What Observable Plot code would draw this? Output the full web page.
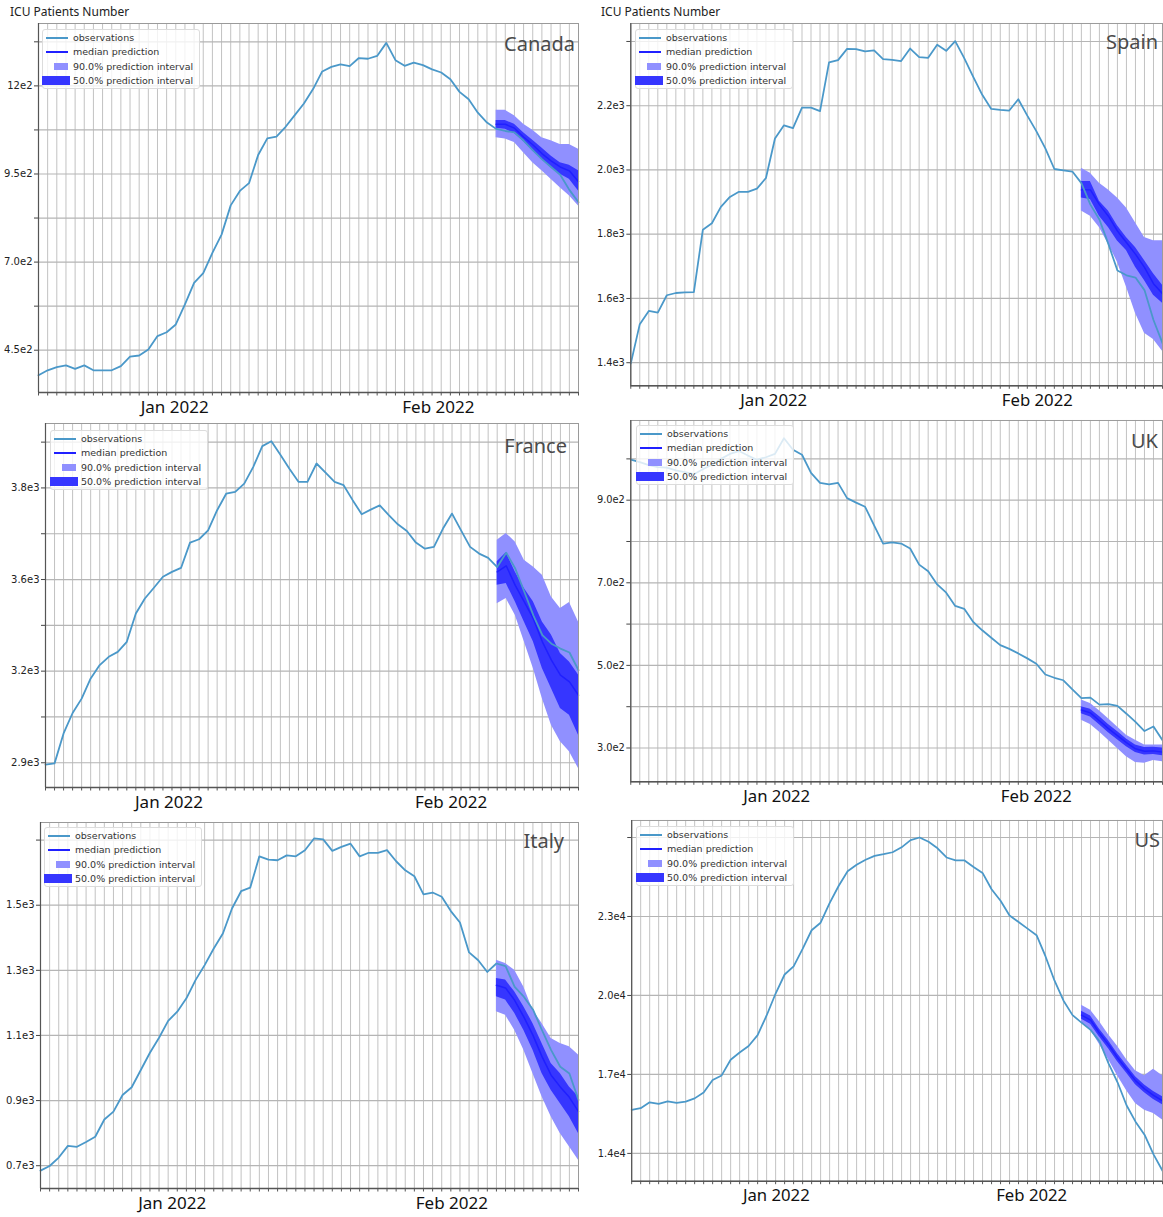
<!DOCTYPE html>
<html><head><meta charset="utf-8">
<script src="https://cdn.jsdelivr.net/npm/d3@7"></script>
<script src="https://cdn.jsdelivr.net/npm/@observablehq/plot@0.6"></script>
<style>
html,body{margin:0;padding:0;background:#fff;}
#page{position:relative;width:1163px;height:1217px;overflow:hidden;background:#fff;}
.panel{position:absolute;}
.title{position:absolute;font-family:"Noto Sans";font-size:12px;color:#222;line-height:14px;white-space:nowrap;}
.country{position:absolute;font-family:"Noto Sans";font-size:20px;color:#4a4a4a;transform:translate(-100%,-50%);white-space:nowrap;line-height:24px;}
.legend{position:absolute;background:rgba(255,255,255,0.8);border:1px solid #dcdcdc;border-radius:3px;width:158px;height:60px;box-sizing:border-box;font-family:"DejaVu Sans";font-size:9.5px;color:#333;}
.legend .sw{position:absolute;}
.legend .tx{position:absolute;left:30px;line-height:12px;white-space:nowrap;}
</style></head>
<body><div id="page"></div>
<script>
// ---------------- data ----------------
const startDay = "2021-12-18";
const nDays = 60;
const predStart = 50;
const janLabel = "Jan 2022", febLabel = "Feb 2022";
const janDate = "2022-01-01", febDate = "2022-02-01";
const titleText = "ICU Patients Number";
const legendLabels = ["observations", "median prediction", "90.0% prediction interval", "50.0% prediction interval"];

// Canada
const canadaObs = [379,393,402,407,397,407,393,393,393,405,432,435,452,490,501,523,580,641,669,726,778,861,902,924,1004,1051,1056,1084,1117,1150,1191,1241,1254,1261,1256,1279,1277,1285,1322,1273,1257,1266,1259,1247,1238,1219,1183,1162,1124,1096,1078,1072,1068,1045,1018,992,970,948,905,870];
const canadaMed  = [1091,1091,1080,1055,1033,1008,987,970,959,928];
const canadaLo50 = [1080,1077,1065,1042,1015,992,968,949,935,902];
const canadaHi50 = [1102,1102,1091,1067,1046,1024,1001,982,975,959];
const canadaLo90 = [1053,1049,1039,1010,982,959,935,911,888,859];
const canadaHi90 = [1131,1131,1115,1091,1074,1053,1044,1034,1034,1020];
const canadaGrid = [450,575,700,825,950,1075,1200,1325];
const canadaTicks = [1200,950,700,450];
const canadaTickLabels = ["12e2","9.5e2","7.0e2","4.5e2"];

// Spain
const spainObs = [1397,1520,1561,1556,1610,1617,1619,1620,1814,1834,1885,1916,1932,1932,1942,1975,2098,2139,2130,2194,2194,2183,2335,2342,2377,2376,2369,2372,2345,2343,2339,2378,2351,2349,2390,2371,2401,2348,2290,2234,2190,2187,2185,2220,2169,2121,2067,2003,1999,1995,1959,1892,1846,1769,1687,1672,1665,1626,1533,1461];
const spainMed  = [1938,1938,1892,1856,1810,1774,1738,1697,1646,1615];
const spainLo50 = [1913,1908,1856,1821,1779,1749,1697,1656,1610,1585];
const spainHi50 = [1964,1964,1903,1872,1826,1790,1759,1718,1677,1641];
const spainLo90 = [1872,1856,1821,1769,1713,1636,1554,1492,1472,1436];
const spainHi90 = [2005,1990,1959,1938,1913,1882,1836,1790,1780,1780];
const spainGrid = [1400,1600,1800,2000,2200,2400];
const spainTicks = [2200,2000,1800,1600,1400];
const spainTickLabels = ["2.2e3","2.0e3","1.8e3","1.6e3","1.4e3"];

// France
const franceObs = [2894,2898,2996,3063,3110,3176,3220,3247,3263,3296,3389,3438,3473,3509,3525,3538,3621,3632,3661,3727,3781,3787,3814,3869,3937,3953,3909,3863,3820,3820,3880,3850,3820,3809,3760,3714,3729,3743,3711,3681,3659,3621,3601,3607,3667,3716,3661,3607,3585,3571,3541,3588,3536,3460,3383,3318,3290,3274,3261,3203];
const franceMed  = [3525,3545,3481,3427,3372,3296,3236,3187,3165,3121];
const franceLo50 = [3481,3487,3427,3361,3296,3209,3143,3078,3056,2990];
const franceHi50 = [3558,3588,3525,3471,3427,3361,3318,3258,3230,3187];
const franceLo90 = [3421,3438,3383,3296,3209,3110,3023,2969,2936,2881];
const franceHi90 = [3629,3651,3623,3563,3541,3514,3443,3405,3425,3361];
const franceGrid = [2900,3050,3200,3350,3500,3650,3800,3950];
const franceTicks = [3800,3500,3200,2900];
const franceTickLabels = ["3.8e3","3.6e3","3.2e3","2.9e3"];

// UK
const ukObs = [998,992,985,980,979,972,968,963,975,986,1000,1012,1019,1008,998,1004,1012,1050,1022,1010,966,942,938,942,905,894,884,839,795,798,795,783,744,728,696,676,644,637,605,585,567,549,540,529,517,504,478,470,464,442,421,422,405,406,402,383,363,341,352,319];
const ukMed  = [392,385,366,347,330,313,298,292,293,290];
const ukLo50 = [383,375,356,337,320,303,289,283,284,281];
const ukHi50 = [400,394,376,357,340,322,307,301,302,300];
const ukLo90 = [367,357,339,319,299,279,265,263,270,267];
const ukHi90 = [416,408,390,371,351,331,319,307,307,307];
const ukGrid = [300,400,500,600,700,800,900,1000];
const ukTicks = [900,700,500,300];
const ukTickLabels = ["9.0e2","7.0e2","5.0e2","3.0e2"];

// Italy
const italyObs = [685,699,725,761,758,773,789,842,866,917,941,994,1047,1093,1145,1173,1214,1270,1316,1367,1413,1490,1543,1554,1650,1640,1638,1653,1650,1669,1705,1702,1667,1679,1689,1650,1661,1661,1669,1635,1607,1589,1533,1539,1526,1482,1447,1355,1331,1295,1321,1313,1249,1219,1180,1116,1055,1004,983,902];
const italyMed  = [1254,1246,1208,1157,1101,1035,978,942,910,866];
const italyLo50 = [1219,1209,1168,1116,1055,983,932,891,850,799];
const italyHi50 = [1275,1270,1234,1188,1137,1075,1014,983,942,912];
const italyLo90 = [1173,1162,1116,1055,983,912,850,799,758,717];
const italyHi90 = [1331,1321,1300,1249,1178,1137,1091,1075,1065,1040];
const italyGrid = [700,900,1100,1300,1500,1700];
const italyTicks = [1500,1300,1100,900,700];
const italyTickLabels = ["1.5e3","1.3e3","1.1e3","0.9e3","0.7e3"];

// US
const usObs = [15655,15717,15941,15879,15979,15916,15966,16090,16314,16788,16962,17559,17833,18082,18493,19240,20074,20796,21108,21767,22477,22763,23510,24158,24718,24967,25154,25303,25366,25440,25627,25901,26000,25839,25590,25241,25129,25129,24880,24656,24033,23598,23037,22788,22539,22290,21481,20560,19800,19253,18967,18693,18257,17423,16701,15829,15207,14709,13962,13340];
const usMed  = [19253,19066,18568,18133,17635,17199,16763,16452,16203,16000];
const usLo50 = [19100,18910,18420,17980,17480,17050,16610,16300,16050,15850];
const usHi50 = [19400,19220,18720,18280,17790,17350,16910,16600,16350,16150];
const usLo90 = [18942,18693,18133,17572,16950,16390,15892,15642,15518,15269];
const usHi90 = [19627,19440,19004,18506,18070,17572,17137,16950,17199,16950];
const usGrid = [14000,17000,20000,23000,26000];
const usTicks = [23000,20000,17000,14000];
const usTickLabels = ["2.3e4","2.0e4","1.7e4","1.4e4"];

// ---------------- layout ----------------
const OBS_C = "#4a98c9", MED_C = "#2020ff", P90_C = "#9090ff", P50_C = "#3636ff";

const panels = [
  {name:"Canada", col:0, l:38, r:578, t:23, b:392, y:[330,1377], obs:canadaObs, med:canadaMed, lo50:canadaLo50, hi50:canadaHi50, lo90:canadaLo90, hi90:canadaHi90, grid:canadaGrid, ticks:canadaTicks, labels:canadaTickLabels, lg:[42,29], cx:575, cy:44, janDx:8, febDx:-12},
  {name:"Spain", col:583, l:631, r:1171, t:23, b:391, y:[1328,2456], obs:spainObs, med:spainMed, lo50:spainLo50, hi50:spainHi50, lo90:spainLo90, hi90:spainHi90, grid:spainGrid, ticks:spainTicks, labels:spainTickLabels, lg:[635,29], cx:1158, cy:42, janDx:17, febDx:1},
  {name:"France", col:0, l:45, r:578, t:423, b:787, y:[2819,4011], obs:franceObs, med:franceMed, lo50:franceLo50, hi50:franceHi50, lo90:franceLo90, hi90:franceHi90, grid:franceGrid, ticks:franceTicks, labels:franceTickLabels, lg:[50,430], cx:567, cy:446, janDx:-3, febDx:-1},
  {name:"UK", col:583, l:631, r:1171, t:420, b:787, y:[218,1093], obs:ukObs, med:ukMed, lo50:ukLo50, hi50:ukHi50, lo90:ukLo90, hi90:ukHi90, grid:ukGrid, ticks:ukTicks, labels:ukTickLabels, lg:[636,425], cx:1158, cy:441, janDx:20, febDx:0},
  {name:"Italy", col:0, l:40, r:578, t:822, b:1188, y:[630,1754], obs:italyObs, med:italyMed, lo50:italyLo50, hi50:italyHi50, lo90:italyLo90, hi90:italyHi90, grid:italyGrid, ticks:italyTicks, labels:italyTickLabels, lg:[44,827], cx:564, cy:841, janDx:4, febDx:1},
  {name:"US", col:583, l:632, r:1172, t:820, b:1187, y:[12942,26647], obs:usObs, med:usMed, lo50:usLo50, hi50:usHi50, lo90:usLo90, hi90:usHi90, grid:usGrid, ticks:usTicks, labels:usTickLabels, lg:[636,826], cx:1160, cy:840, janDx:19, febDx:-5}
];

const page = document.getElementById("page");
const t0 = new Date(startDay + "T00:00:00Z");
const days = d3.range(nDays).map(i => d3.utcDay.offset(t0, i));
const jan = new Date(janDate + "T00:00:00Z"), feb = new Date(febDate + "T00:00:00Z");

for (const p of panels) {
  const obsRows = p.obs.map((v, i) => ({date: days[i], v}));
  const predRows = p.med.map((m, i) => ({date: days[predStart + i], med: m, lo50: p.lo50[i], hi50: p.hi50[i], lo90: p.lo90[i], hi90: p.hi90[i]}));
  const labelMap = new Map(p.ticks.map((v, i) => [v, p.labels[i]]));
  const mt = 1, mb = 32;
  const ml = p.l - p.col, mr = 1;
  const width = p.r - p.col + mr, height = (p.b - p.t) + mt + mb;
  const chart = Plot.plot({
    width, height, marginLeft: ml, marginRight: mr, marginTop: mt, marginBottom: mb,
    x: {type: "utc", domain: [days[0], days[nDays - 1]]},
    y: {domain: p.y},
    style: {background: "transparent", overflow: "visible", fontFamily: "DejaVu Sans", color: "#222"},
    marks: [
      Plot.ruleX(days, {stroke: "#c2c2c2", strokeWidth: 1}),
      Plot.ruleY(p.grid, {stroke: "#b5b5b5", strokeWidth: 1.2}),
      Plot.areaY(predRows, {x: "date", y1: "lo90", y2: "hi90", fill: P90_C}),
      Plot.areaY(predRows, {x: "date", y1: "lo50", y2: "hi50", fill: P50_C}),
      Plot.lineY(predRows, {x: "date", y: "med", stroke: MED_C, strokeWidth: 1.5}),
      Plot.lineY(obsRows, {x: "date", y: "v", stroke: OBS_C, strokeWidth: 1.8}),
      Plot.frame({stroke: "#9a9a9a"}),
      Plot.ruleX([days[0]], {stroke: "#555", strokeWidth: 1.2}),
      Plot.ruleY([p.y[0]], {stroke: "#555", strokeWidth: 1.5}),
      Plot.axisY(p.grid, {tickSize: 4, tickPadding: 2, tickFormat: v => labelMap.get(v) ?? "", fontSize: 10, stroke: "#444", fill: "#222"}),
      Plot.axisX(days, {tickSize: 3.5, tickFormat: () => "", stroke: "#555"}),
      Plot.axisX([jan], {tickSize: 0, tickPadding: 8, tickFormat: () => janLabel, fontSize: 17, fontFamily: "Noto Sans", fill: "#111", dx: p.janDx}),
      Plot.axisX([feb], {tickSize: 0, tickPadding: 8, tickFormat: () => febLabel, fontSize: 17, fontFamily: "Noto Sans", fill: "#111", dx: p.febDx})
    ]
  });
  const wrap = document.createElement("div");
  wrap.className = "panel";
  wrap.style.left = p.col + "px";
  wrap.style.top = (p.t - mt) + "px";
  wrap.appendChild(chart);
  page.appendChild(wrap);

  // legend
  const lg = document.createElement("div");
  lg.className = "legend";
  lg.style.left = p.lg[0] + "px";
  lg.style.top = p.lg[1] + "px";
  lg.innerHTML =
    `<div class="sw" style="left:3px;top:7px;width:22px;height:2px;background:${OBS_C}"></div>` +
    `<div class="tx" style="top:2px">${legendLabels[0]}</div>` +
    `<div class="sw" style="left:3px;top:21px;width:22px;height:1.6px;background:${MED_C}"></div>` +
    `<div class="tx" style="top:16px">${legendLabels[1]}</div>` +
    `<div class="sw" style="left:11px;top:33px;width:14px;height:7px;background:${P90_C}"></div>` +
    `<div class="tx" style="top:31px">${legendLabels[2]}</div>` +
    `<div class="sw" style="left:-1px;top:46px;width:28px;height:9px;background:${P50_C}"></div>` +
    `<div class="tx" style="top:45px">${legendLabels[3]}</div>`;
  page.appendChild(lg);

  const c = document.createElement("div");
  c.className = "country";
  c.style.left = p.cx + "px";
  c.style.top = p.cy + "px";
  c.textContent = p.name;
  page.appendChild(c);
}

for (const x of [10, 601]) {
  const t = document.createElement("div");
  t.className = "title";
  t.style.left = x + "px";
  t.style.top = "5px";
  t.textContent = titleText;
  page.appendChild(t);
}
</script>
</body></html>
